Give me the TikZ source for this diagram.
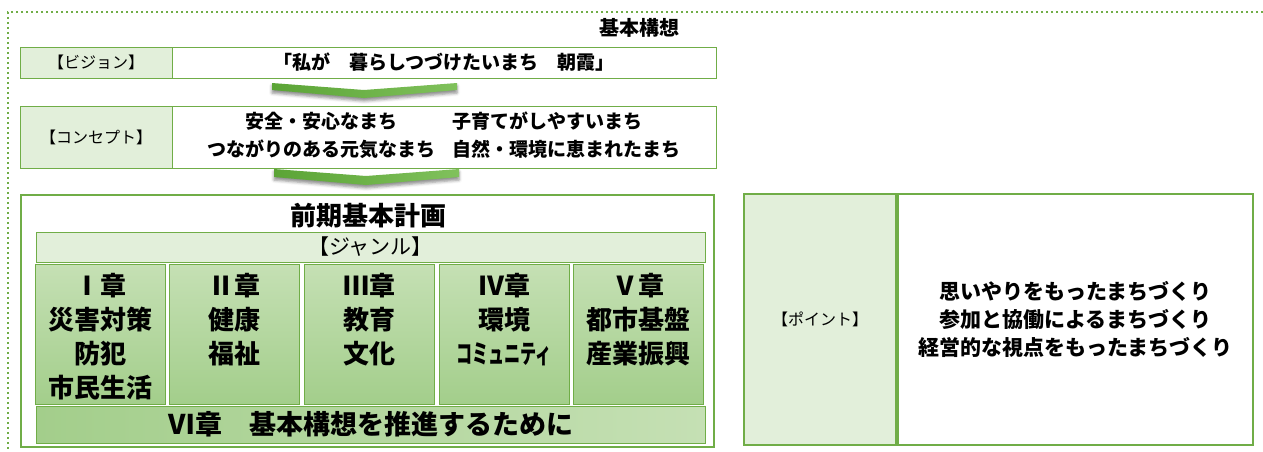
\documentclass[tikz,border=0pt]{standalone}
\usepackage{fontspec}
\setmainfont{Noto Sans CJK JP}
\usepackage{tikz}
\usetikzlibrary{positioning,shadows.blur}

\definecolor{framegreen}{HTML}{70AD47}
\definecolor{palegreen}{HTML}{E2EFDA}
\definecolor{chaptop}{HTML}{C5E0B4}
\definecolor{chapbot}{HTML}{A3CE8B}
\definecolor{arrowdark}{HTML}{5BA436}
\definecolor{arrowlight}{HTML}{80C15C}

\begin{document}
\begin{tikzpicture}
	[x=1pt,y=-1pt,
		label box/.style={draw=framegreen,fill=palegreen,line width=1pt,inner sep=0pt,font=\fontsize{16}{18}\selectfont},
		text box/.style={draw=framegreen,fill=white,line width=1pt,inner sep=0pt,align=center,font=\fontsize{19}{28}\selectfont\bfseries},
		chapter box/.style={draw=framegreen,line width=0.8pt,top color=chaptop,bottom color=chapbot,minimum width=130pt,minimum height=140pt,inner sep=0pt},
		chapter text/.style={align=center,inner sep=0pt,font=\fontsize{26}{34}\selectfont\bfseries},
		chevron/.style={left color=arrowdark,right color=arrowlight,blur shadow={shadow xshift=0pt,shadow yshift=-3pt,shadow blur radius=3pt,shadow opacity=45}}]

	\useasboundingbox (0,0) rectangle (1263,451);
	% outer dotted frame
	\draw[framegreen,line width=2pt,dash pattern=on 2pt off 3pt] (1263,12) -- (8,12) -- (8,451);

	\node[font=\fontsize{20}{22}\selectfont\bfseries] (plan) at (639,28) {基本構想};

	\node[label box,minimum width=152pt,minimum height=31pt] (vislbl) at (96,62.5) {【ビジョン】};
	\node[text box,minimum width=544pt,minimum height=31pt] (vistext) at (444,62.5) {「私が　暮らしつづけたいまち　朝霞」};

	\node[label box,minimum width=152pt,minimum height=62pt] (conlbl) at (96,137) {【コンセプト】};
	\node[text box,minimum width=544pt,minimum height=62pt] (context) at (444,137)
		{\begin{tabular}{@{}c@{\hspace{17pt}}l@{}}安全・安心なまち & 子育てがしやすいまち\\ つながりのある元気なまち & 自然・環境に恵まれたまち\end{tabular}};

	% chevrons
	\shade[chevron] (272,83) -- (364,90) -- (457,83) -- (457,90) -- (364,98) -- (272,90) -- cycle;
	\shade[chevron] (274,169) -- (366,176) -- (459,169) -- (459,177) -- (366,185) -- (274,177) -- cycle;

	\node[draw=framegreen,line width=2.5pt,fill=white,minimum width=693pt,minimum height=252pt,inner sep=0pt] (basic) at (367.5,321) {};
	\node[font=\fontsize{26}{28}\selectfont\bfseries] (basictitle) at (368,216) {前期基本計画};
	\node[label box,minimum width=669pt,minimum height=30pt,font=\fontsize{21}{22}\selectfont] (genre) at (370.5,247) {【ジャンル】};

	\node[chapter box] (ch1) at (100.5,334) {};
	\node[chapter box] (ch2) at (234.5,334) {};
	\node[chapter box] (ch3) at (369,334) {};
	\node[chapter box] (ch4) at (504,334) {};
	\node[chapter box] (ch5) at (638.5,334) {};
	\node[chapter text,below=9pt of ch1.north] (ch1text) {Ⅰ章\\災害対策\\防犯\\市民生活};
	\node[chapter text,below=9pt of ch2.north] (ch2text) {Ⅱ章\\健康\\福祉};
	\node[chapter text,below=9pt of ch3.north] (ch3text) {Ⅲ章\\教育\\文化};
	\node[chapter text,below=9pt of ch4.north] (ch4text) {Ⅳ章\\環境\\\scalebox{0.62}[1]{コミュニティ}};
	\node[chapter text,below=9pt of ch5.north] (ch5text) {Ⅴ章\\都市基盤\\産業振興};
	\node[draw=framegreen,line width=0.8pt,left color=chapbot,right color=chaptop,minimum width=669pt,minimum height=37pt,inner sep=0pt,font=\fontsize{27}{28}\selectfont\bfseries] (ch6) at (370.5,424.5) {Ⅵ章　基本構想を推進するために};

	\node[label box,line width=1.2pt,minimum width=152pt,minimum height=251pt] (ptlbl) at (820,319.5) {【ポイント】};
	\node[text box,line width=1.2pt,minimum width=355pt,minimum height=251pt,font=\fontsize{21}{28}\selectfont\bfseries] (pttext) at (1075.5,319.5)
		{思いやりをもったまちづくり\\参加と協働によるまちづくり\\経営的な視点をもったまちづくり};
\end{tikzpicture}
\end{document}
